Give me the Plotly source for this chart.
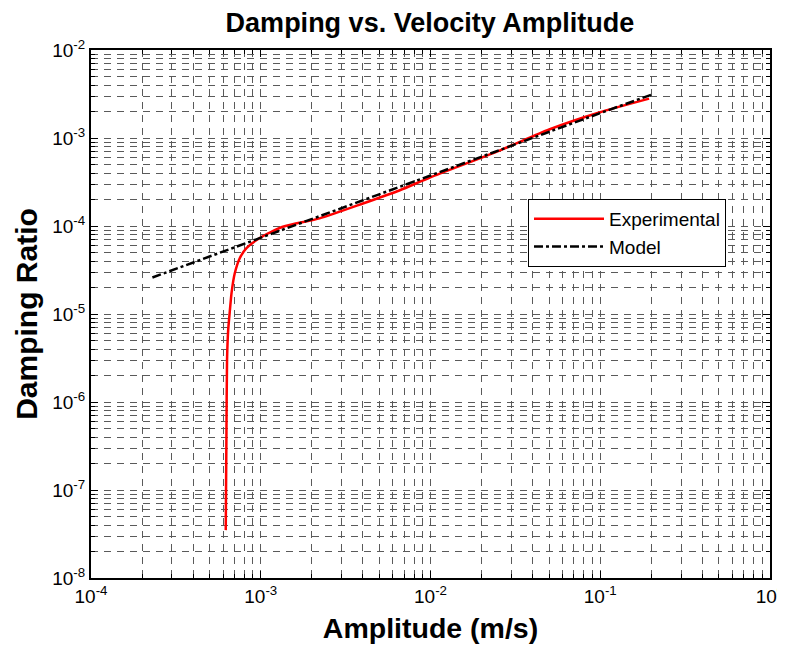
import plotly.graph_objects as go

# Experimental curve
exp_x = [6.22e-4, 6.28e-4, 6.33e-4, 6.43e-4, 6.58e-4, 6.73e-4, 7.03e-4, 7.52e-4, 8.24e-4,
         9.87e-4, 1.35e-3, 2.22e-3, 4.0e-3, 6.6e-3, 9.9e-3, 2.55e-2, 5.0e-2, 9.86e-2, 0.194]
exp_y = [3.5e-8, 4.5e-7, 3.0e-6, 6.6e-6, 1.1e-5, 1.74e-5, 2.9e-5, 4.3e-5, 5.6e-5,
         7.3e-5, 9.8e-5, 1.22e-4, 1.8e-4, 2.55e-4, 3.55e-4, 7.2e-4, 1.25e-3, 1.95e-3, 2.8e-3]

# Model (power law, straight on log-log)
model_x = [2.3e-4, 1e-3, 1e-2, 1e-1, 0.2]
model_y = [2.6e-5, 7.3e-5, 3.75e-4, 1.92e-3, 3.1e-3]

x_tickvals = [1e-4, 1e-3, 1e-2, 1e-1, 1e0]
x_ticktext = ["10<sup>-4</sup>", "10<sup>-3</sup>", "10<sup>-2</sup>", "10<sup>-1</sup>", "10<sup>0</sup>"]
y_tickvals = [1e-8, 1e-7, 1e-6, 1e-5, 1e-4, 1e-3, 1e-2]
y_ticktext = ["10<sup>-8</sup>", "10<sup>-7</sup>", "10<sup>-6</sup>", "10<sup>-5</sup>",
              "10<sup>-4</sup>", "10<sup>-3</sup>", "10<sup>-2</sup>"]

FONT = "Liberation Sans, Arial, sans-serif"
GRID = "#5a5a5a"

fig = go.Figure()
fig.add_trace(go.Scatter(
    x=exp_x, y=exp_y, mode="lines", name="Experimental",
    line=dict(color="#ff0000", width=2.5, shape="spline", smoothing=0.6),
))
fig.add_trace(go.Scatter(
    x=model_x, y=model_y, mode="lines", name="Model",
    line=dict(color="#000000", width=2.5, dash="dashdot"),
))

axis_common = dict(
    type="log",
    showline=True, linecolor="black", linewidth=2, mirror="ticks",
    ticks="inside", ticklen=7, tickcolor="black", tickwidth=1,
    showgrid=True, gridcolor=GRID, gridwidth=1, griddash="7px,6px",
    zeroline=False, automargin=False,
    tickfont=dict(family=FONT, size=19, color="black"),
    tickmode="array",
    minor=dict(dtick="D1", ticks="inside", ticklen=4, tickcolor="black",
               showgrid=True, gridcolor=GRID, gridwidth=1, griddash="7px,6px"),
)

fig.update_xaxes(
    **axis_common,
    range=[-4, 0], tickvals=x_tickvals, ticktext=x_ticktext,
    title=dict(text="<b>Amplitude (m/s)</b>", font=dict(family=FONT, size=28.5, color="black"),
               standoff=12),
)
fig.update_yaxes(
    **axis_common,
    range=[-8, -2], tickvals=y_tickvals, ticktext=y_ticktext,
    title=dict(text="<b>Damping Ratio</b>", font=dict(family=FONT, size=30, color="black"),
               standoff=6),
)

# the page body adds an 8px offset, so the figure is 8px smaller than the window
fig.update_layout(
    width=777, height=641,
    margin=dict(l=83, r=15, t=42, b=71),
    paper_bgcolor="white", plot_bgcolor="white",
    title=dict(text="<b>Damping vs. Velocity Amplitude</b>", x=0.543, xanchor="center",
               y=0.9766, yanchor="middle", font=dict(family=FONT, size=27, color="black")),
    legend=dict(x=0.6436, y=0.718, xanchor="left", yanchor="top",
                bgcolor="white", bordercolor="black", borderwidth=1,
                font=dict(family=FONT, size=19, color="black"),
                itemwidth=70, tracegroupgap=0),
    font=dict(family=FONT, color="black"),
)

fig.write_html("out.html")
